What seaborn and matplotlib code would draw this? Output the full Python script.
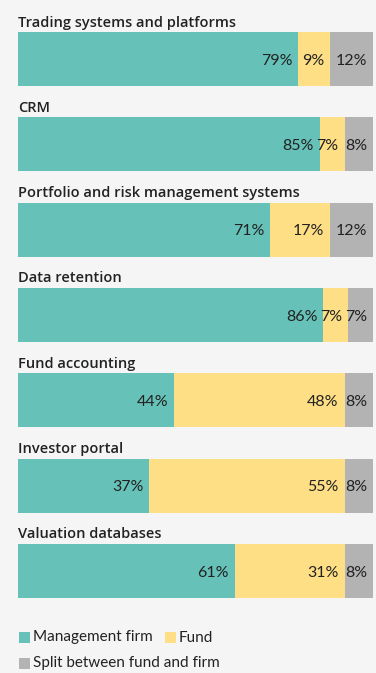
import matplotlib
matplotlib.use("Agg")
import matplotlib.pyplot as plt
from matplotlib.patches import Rectangle
from matplotlib.transforms import offset_copy
import pandas as pd
import seaborn as sns

categories = [
    "Trading systems and platforms",
    "CRM",
    "Portfolio and risk management systems",
    "Data retention",
    "Fund accounting",
    "Investor portal",
    "Valuation databases",
]
management_firm = [79, 85, 71, 86, 44, 37, 61]
fund = [9, 7, 17, 7, 48, 55, 31]
split = [12, 8, 12, 7, 8, 8, 8]
series_names = ["Management firm", "Fund", "Split between fund and firm"]

colors = ["#66c2b8", "#ffdf85", "#b3b3b3"]
bg = "#f5f5f5"
text_color = "#222222"

sns.set_theme(style="white")
plt.rcParams["font.family"] = ["Lato", "DejaVu Sans"]

W, H = 376, 673
fig = plt.figure(figsize=(W / 100, H / 100), dpi=100, facecolor=bg)

# axes geometry in pixels
left_px, right_px = 18, 373
top_px, bottom_px = 16.4, 613.6
ax = fig.add_axes([left_px / W, 1 - bottom_px / H,
                   (right_px - left_px) / W, (bottom_px - top_px) / H])
ax.set_facecolor(bg)

df = pd.DataFrame({
    "category": categories,
    "mgmt": management_firm,
    "fund": fund,
    "split": split,
})
df["c1"] = df["mgmt"]
df["c2"] = df["mgmt"] + df["fund"]
df["c3"] = df["c2"] + df["split"]

bar_w = 0.633
# stacked: draw cumulative totals from the back to the front
for col, color in zip(["c3", "c2", "c1"], colors[::-1]):
    sns.barplot(data=df, x=col, y="category", orient="h", color=color,
                width=bar_w, saturation=1, linewidth=0, ax=ax)

ax.set_xlim(0, 100)
ax.set_ylim(len(categories) - 0.5, -0.5)
ax.set_xlabel("")
ax.set_ylabel("")
ax.set_xticks([])
ax.set_yticks([])
for s in ax.spines.values():
    s.set_visible(False)

# value labels sit 6 px inside the right end of each segment
pad_tr = offset_copy(ax.transData, fig=fig, x=-6, y=0, units="dots")

for i, row in df.iterrows():
    # category title above each bar
    ax.text(0, i - bar_w / 2 - 0.065, row["category"], ha="left", va="baseline",
            fontsize=10.5, fontweight="semibold", family=["Open Sans", "DejaVu Sans"],
            color=text_color, clip_on=False)
    ends = [row["c1"], row["c2"], row["c3"]]
    vals = [row["mgmt"], row["fund"], row["split"]]
    for end, v in zip(ends, vals):
        ax.text(end, i + 0.02, f"{v}%", ha="right", va="center", fontsize=11.5,
                color=text_color, transform=pad_tr)

# legend drawn in figure pixels
def legend_item(x, y_top, color, label):
    fig.patches.append(Rectangle((x / W, 1 - (y_top + 11) / H), 11 / W, 11 / H,
                                 transform=fig.transFigure, facecolor=color,
                                 edgecolor="none"))
    fig.text((x + 14) / W, 1 - (y_top + 5.5) / H, label, ha="left", va="center",
             fontsize=11, color=text_color)

legend_item(19, 632, colors[0], series_names[0])
legend_item(165, 632, colors[1], series_names[1])
legend_item(19, 658, colors[2], series_names[2])

fig.savefig("out.png", dpi=100, facecolor=bg)
